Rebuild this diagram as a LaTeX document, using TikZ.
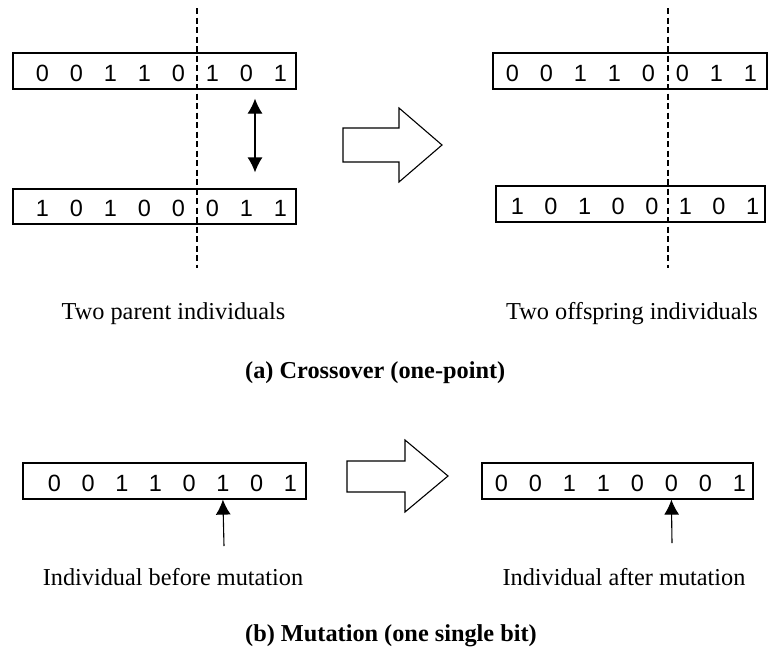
\documentclass[tikz,border=0pt]{standalone}
\usepackage{fontspec}
\setmainfont{Liberation Serif}
\newfontfamily\bitfont{Liberation Sans}
\usepackage{tikz}
\usetikzlibrary{positioning,calc,arrows.meta}

\begin{document}
\begin{tikzpicture}[
  x=1pt, y=-1pt,
  every node/.style={font=\fontsize{24.3}{29}\selectfont},
  chrom/.style={draw, line width=1.2pt, rectangle, minimum height=36pt, inner sep=0pt},
  bit/.style={font=\bitfont\fontsize{23.5}{27}\selectfont, inner sep=0pt},
  cutline/.style={line width=1.3pt, dash pattern=on 6pt off 3.5pt},
  fat/.style={draw, line width=1.1pt, line join=miter},
  swaparrow/.style={line width=1.2pt, {Latex[length=15pt,width=15pt]}-{Latex[length=15pt,width=15pt]}},
  pointer/.style={line width=1.1pt, -{Latex[length=15pt,width=15pt]}},
  lbl/.style={anchor=base, inner sep=0pt},
  title/.style={anchor=base west, inner sep=0pt, font=\bfseries\fontsize{24.3}{29}\selectfont}
]
  \useasboundingbox (0,0) rectangle (768,648);

  % (a) crossover
  \node[chrom, minimum width=283pt] (pa) at (154.5,71) {};
  \node[chrom, minimum width=283pt, minimum height=35pt] (pb) at (154.5,206.5) {};
  \node[chrom, minimum width=274pt] (oa) at (630,71) {};
  \node[chrom, minimum width=269pt] (ob) at (630.5,204) {};

  \foreach \b [count=\i] in {0,0,1,1,0,1,0,1}
    \node[bit] (pa-\i) at ($(pa.west)+(-4+34*\i,2)$) {\b};
  \foreach \b [count=\i] in {1,0,1,0,0,0,1,1}
    \node[bit] (pb-\i) at ($(pb.west)+(-4+34*\i,2)$) {\b};
  \foreach \b [count=\i] in {0,0,1,1,0,0,1,1}
    \node[bit] (oa-\i) at ($(oa.west)+(-14+34*\i,2)$) {\b};
  \foreach \b [count=\i] in {1,0,1,0,0,1,0,1}
    \node[bit] (ob-\i) at ($(ob.west)+(-11.6+33.6*\i,2)$) {\b};

  \coordinate (cl-t) at (197,8);
  \coordinate (cl-b) at (197,268);
  \coordinate (cr-t) at (668,8);
  \coordinate (cr-b) at (668,268);
  \draw[cutline] (cl-t) -- (cl-b);
  \draw[cutline] (cr-t) -- (cr-b);

  \draw[swaparrow, shorten <=9pt, shorten >=16pt] ([xshift=100.5pt]pa.south) -- ([xshift=100.5pt]pb.north);

  \draw[fat] (343,128) -- (399,128) -- (399,108) -- (442,145) -- (399,182) -- (399,162) -- (343,162) -- cycle;

  \node[lbl] (par) at (173.5,319) {Two parent individuals};
  \node[lbl] (off) at (632,319) {Two offspring individuals};
  \node[title] (ta) at (245,378) {(a) Crossover (one-point)};

  % (b) mutation
  \node[chrom, minimum width=283pt] (ma) at (164.5,481) {};
  \node[chrom, minimum width=271pt] (mo) at (617.5,481) {};

  \foreach \b [count=\i] in {0,0,1,1,0,1,0,1}
    \node[bit] (ma-\i) at ($(ma.west)+(-1.7+33.7*\i,2)$) {\b};
  \foreach \b [count=\i] in {0,0,1,1,0,0,0,1}
    \node[bit] (mo-\i) at ($(mo.west)+(-14+34*\i,2)$) {\b};

  \draw[fat] (347,461) -- (405,461) -- (405,440) -- (448,476) -- (405,512) -- (405,492) -- (347,492) -- cycle;

  \coordinate (ma-tail) at (224,546);
  \coordinate (mo-tail) at (672,543);
  \draw[pointer] (ma-tail) -- (ma.south -| ma-6);
  \draw[pointer] (mo-tail) -- (mo.south -| mo-6);

  \node[lbl] (bef) at (173,585) {Individual before mutation};
  \node[lbl] (aft) at (624,585) {Individual after mutation};
  \node[title] (tb) at (245,641) {(b) Mutation (one single bit)};
\end{tikzpicture}
\end{document}
